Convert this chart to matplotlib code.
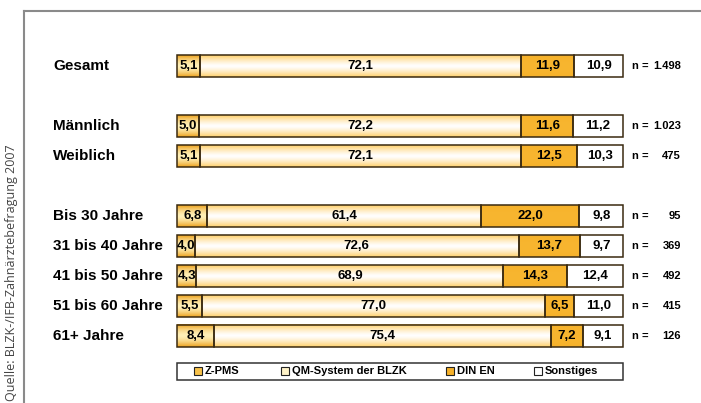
import numpy as np
import matplotlib
matplotlib.use("Agg")
import matplotlib.pyplot as plt
from matplotlib.patches import Rectangle
from matplotlib.lines import Line2D

# data
groups = ["Gesamt", "Männlich", "Weiblich", "Bis 30 Jahre", "31 bis 40 Jahre",
          "41 bis 50 Jahre", "51 bis 60 Jahre", "61+ Jahre"]
z_pms = [5.1, 5.0, 5.1, 6.8, 4.0, 4.3, 5.5, 8.4]
qm_blzk = [72.1, 72.2, 72.1, 61.4, 72.6, 68.9, 77.0, 75.4]
din_en = [11.9, 11.6, 12.5, 22.0, 13.7, 14.3, 6.5, 7.2]
sonstiges = [10.9, 11.2, 10.3, 9.8, 9.7, 12.4, 11.0, 9.1]
n_counts = ["1.498", "1.023", "475", "95", "369", "492", "415", "126"]
series_names = ["Z-PMS", "QM-System der BLZK", "DIN EN", "Sonstiges"]
source = "Quelle: BLZK-/IFB-Zahnärztebefragung 2007"

# row slots (gaps between blocks)
rows = [0, 2, 3, 5, 6, 7, 8, 9]

plt.rcParams['font.family'] = ['Liberation Sans', 'DejaVu Sans']

W, H = 701, 403
fig = plt.figure(figsize=(W / 100, H / 100), dpi=100)
# x: 0..100 % maps to pixels 177..623 ; y: row units, row 0 at pixel 66, 30 px per row
ax = fig.add_axes([177 / W, 0, 446 / W, 1])
ax.set_xlim(0, 100)
ax.set_ylim((H - 66) / 30, -66 / 30)
ax.axis("off")

px = 100 / 446  # one pixel in x data units


def grad(edge, center, power=1.6, n=64):
    t = np.abs(np.linspace(-1, 1, n)) ** power
    e = np.array(matplotlib.colors.to_rgb(edge))
    c = np.array(matplotlib.colors.to_rgb(center))
    img = c[None, :] * (1 - t[:, None]) + e[None, :] * t[:, None]
    return img[:, None, :]


fills = [grad("#eca01a", "#fff0b8"), grad("#ffd06a", "#ffffff", 1.3),
         grad("#f6b12a", "#f8b630"), grad("#ffffff", "#ffffff")]
edge_col = "#3a2a10"
bh = 22 / 30

all_series = [z_pms, qm_blzk, din_en, sonstiges]
for i, r in enumerate(rows):
    left = 0
    for s, vals in enumerate(all_series):
        v = vals[i]
        ax.imshow(fills[s], extent=(left, left + v, r + bh / 2, r - bh / 2),
                  aspect="auto", interpolation="bilinear", zorder=1)
        ax.add_patch(Rectangle((left, r - bh / 2), v, bh, fill=False,
                               edgecolor=edge_col, lw=1.1, zorder=2,
                               clip_on=False))
        ax.text(left + v / 2, r, f"{v:.1f}".replace(".", ","), ha="center",
                va="center", fontsize=9.5, fontweight="bold", zorder=3)
        left += v
    ax.text((53 - 177) * px, r, groups[i], ha="left", va="center",
            fontsize=11, fontweight="bold")
    ax.text((632 - 177) * px, r, "n =", ha="left", va="center",
            fontsize=8, fontweight="bold")
    ax.text((681 - 177) * px, r, n_counts[i], ha="right", va="center",
            fontsize=8, fontweight="bold")

# legend box
ly = (371 - 66) / 30
lh = 17 / 30
ax.add_patch(Rectangle((0, ly - lh / 2), 100, lh, fill=False,
                       edgecolor="#333333", lw=1.1, zorder=2, clip_on=False))
leg_px = [198, 285, 450, 538]
leg_fill = ["#f8c24a", "#fff3c8", "#f6b12a", "#ffffff"]
sq = 8
for name, xp, fc in zip(series_names, leg_px, leg_fill):
    ax.add_patch(Rectangle(((xp - 177 - sq / 2) * px, ly - sq / 60), sq * px,
                           sq / 30, facecolor=fc, edgecolor="#222222", lw=0.8))
    ax.text((xp - 177 + 7) * px, ly, name, ha="left", va="center",
            fontsize=8, fontweight="bold")

# outer frame lines
fig.add_artist(Line2D([23.5 / W, 1], [1 - 11 / H, 1 - 11 / H],
                      transform=fig.transFigure, color="#8a8a8a", lw=1.5))
fig.add_artist(Line2D([23.5 / W, 23.5 / W], [0, 1 - 11 / H],
                      transform=fig.transFigure, color="#8a8a8a", lw=1.5))

fig.text(12 / W, 2 / H, source, rotation=90, ha="center", va="bottom",
         fontsize=9, color="#444444", family=["Open Sans", "DejaVu Sans"])

fig.savefig("out.png", dpi=100)
